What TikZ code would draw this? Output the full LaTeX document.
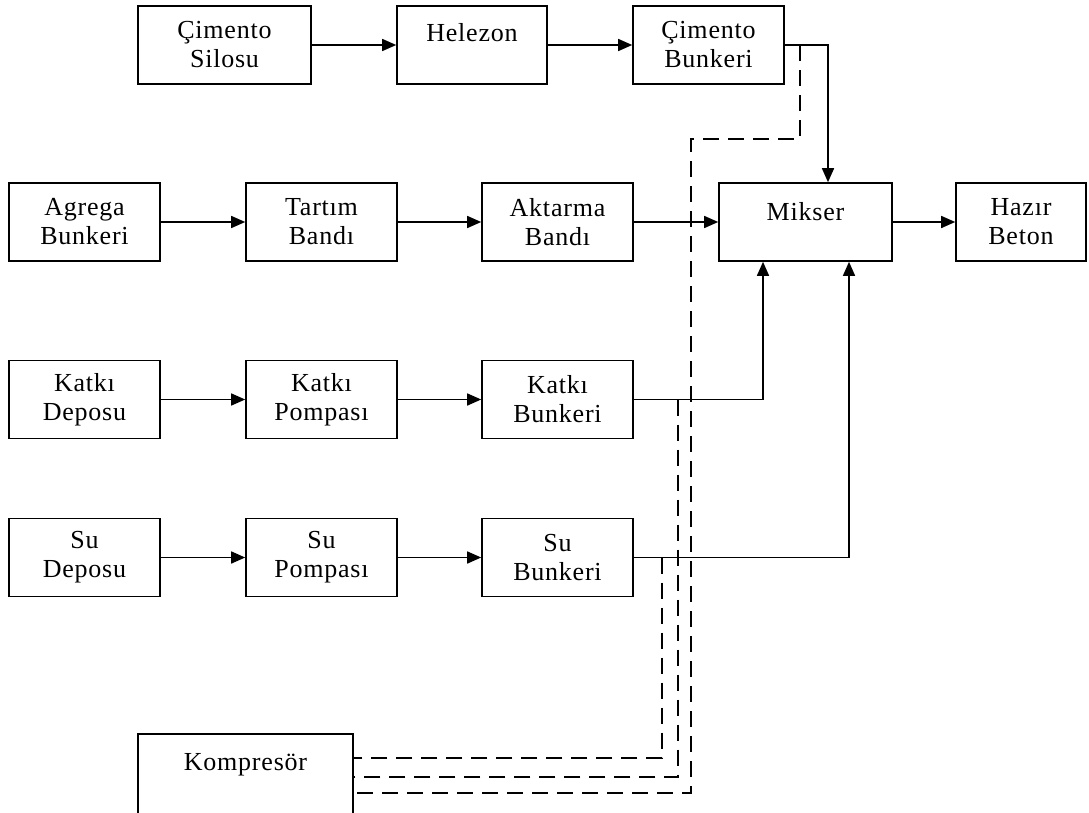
\documentclass[tikz,border=0pt]{standalone}
\usepackage{fontspec}
\setmainfont{Liberation Serif}[LetterSpace=3]
\usetikzlibrary{arrows.meta}
% one line of text with no height, lifted by #1 from the box centre
\newcommand{\lifted}[2]{\raisebox{#1}[0pt][0pt]{#2}}
\begin{document}
\begin{tikzpicture}[x=1pt,y=-1pt,
  blk/.style={draw, line width=1.6pt, minimum height=78pt, minimum width=151pt,
    inner sep=0pt, align=center, font=\fontsize{26}{29}\selectfont},
  arr/.style={line width=1.5pt, -{Triangle[length=14pt,width=12pt]}},
  air/.style={line width=1.5pt, dash pattern=on 16pt off 9pt}]
\useasboundingbox (0,0) rectangle (1089,812);
\clip (0,0) rectangle (1089,812);
\fill[white] (0,0) rectangle (1089,812);

% cement line
\node[blk, minimum width=173pt] (cs) at (224.5,45) {Çimento\\Silosu};
\node[blk, minimum width=150pt] (hz) at (472,45) {\lifted{3.5pt}{Helezon}};
\node[blk] (cb) at (708.5,45) {Çimento\\Bunkeri};

% aggregate line
\node[blk] (ab) at (84.5,222) {Agrega\\Bunkeri};
\node[blk] (tb) at (321.5,222) {Tartım\\Bandı};
\node[blk] (kt) at (557.5,222) {Aktarma\\Bandı};
\node[blk, minimum width=173pt] (mk) at (805.5,222) {\lifted{1.5pt}{Mikser}};
\node[blk, minimum width=130pt] (hb) at (1021,222) {Hazır\\Beton};

% admixture line
\node[blk] (kd) at (84.5,399.5) {Katkı\\Deposu};
\node[blk] (kp2) at (321.5,399.5) {Katkı\\Pompası};
\node[blk] (kb) at (557.5,399.5) {Katkı\\Bunkeri};

% water line
\node[blk] (sd) at (84.5,557.5) {Su\\Deposu};
\node[blk] (sp) at (321.5,557.5) {Su\\Pompası};
\node[blk] (sb) at (557.5,557.5) {Su\\Bunkeri};

% compressor (runs past the lower edge)
\node[blk, minimum width=215pt, minimum height=84pt] (kp) at (245.5,776) {\lifted{5.5pt}{Kompresör}};

% mixer inlets
\coordinate (mkT) at ([xshift=22.5pt]mk.north);
\coordinate (mkB1) at ([xshift=-42.5pt]mk.south);
\coordinate (mkB2) at ([xshift=43.5pt]mk.south);

\draw[arr] (cs) -- (hz);
\draw[arr] (hz) -- (cb);
\draw[arr] (cb.east) -| (mkT);

\draw[arr] (ab) -- (tb);
\draw[arr] (tb) -- (kt);
\draw[arr] (kt) -- (mk);
\draw[arr] (mk) -- (hb);

\draw[arr] (kd) -- (kp2);
\draw[arr] (kp2) -- (kb);
\draw[arr] (kb.east) -| (mkB1);

\draw[arr] (sd) -- (sp);
\draw[arr] (sp) -- (sb);
\draw[arr] (sb.east) -| (mkB2);

% compressed-air lines
\coordinate (tapA) at ([xshift=15pt]cb.east);
\coordinate (bendA) at (691,139);
\coordinate (tapB) at ([xshift=44pt]kb.east);
\coordinate (tapC) at ([xshift=28pt]sb.east);
\coordinate (kpA) at (kp.east |- 0,793);
\coordinate (kpB) at (kp.east |- 0,777);
\coordinate (kpC) at (kp.east |- 0,758);

\draw[air] (tapA) |- (bendA) -- (bendA |- kpA) -- (kpA);
\draw[air] (tapB) |- (kpB);
\draw[air] (tapC) |- (kpC);
\end{tikzpicture}
\end{document}
